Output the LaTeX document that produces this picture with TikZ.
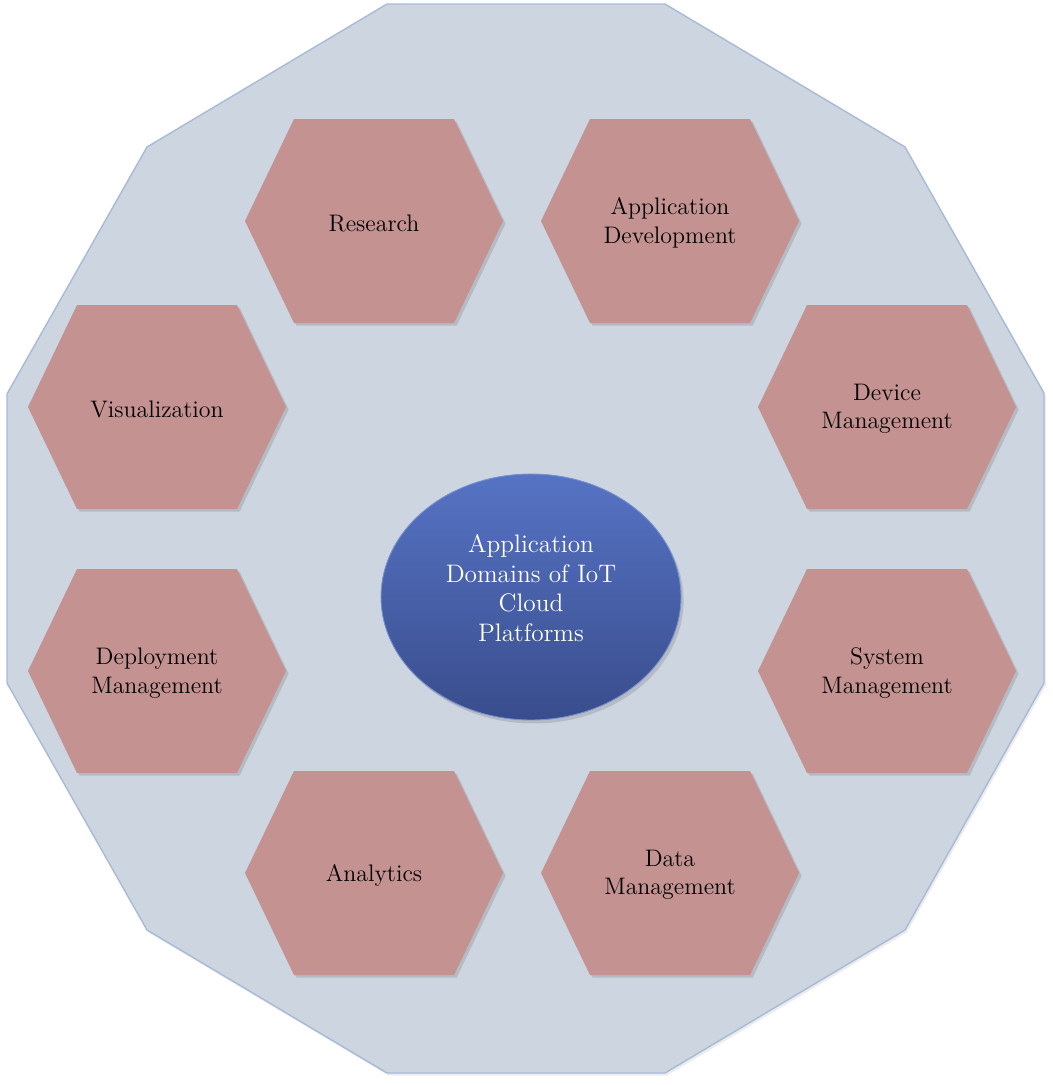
\documentclass[tikz,border=0pt]{standalone}
\usetikzlibrary{shapes.geometric,shadows}
\definecolor{platebg}{HTML}{CDD5E1}
\definecolor{plateline}{HTML}{A8BAD8}
\definecolor{hexred}{HTML}{C49290}
\definecolor{hubtop}{HTML}{5673C4}
\definecolor{hubbot}{HTML}{394D8C}
\tikzset{
  plate/.style={fill=platebg, draw=plateline, line width=0.8pt,
    drop shadow={shadow xshift=1pt, shadow yshift=-1.5pt, opacity=0.15}},
  hexbox/.style={fill=hexred,
    drop shadow={shadow xshift=1.5pt, shadow yshift=-1.5pt, opacity=0.3}},
  hexlabel/.style={align=center, text=black, font=\fontsize{13.6}{16.2}\selectfont},
  hub/.style={ellipse, minimum width=6cm, minimum height=4.92cm, inner sep=0pt,
    top color=hubtop, bottom color=hubbot, draw=hubtop!80!white, line width=0.5pt,
    drop shadow={shadow xshift=1.5pt, shadow yshift=-2pt, opacity=0.3}},
  hublabel/.style={align=center, text=white, font=\fontsize{14.4}{16.8}\selectfont}
}
\begin{document}
\begin{tikzpicture}[x=0.02cm, y=-0.02cm]
  \useasboundingbox (0,0) rectangle (1052,1085);
  % outer twelve-sided plate
  \draw[plate] (387,4) -- (665,4) -- (905,147) -- (1044,393) -- (1044,683)
     -- (905,930) -- (665,1073) -- (387,1073) -- (147,930) -- (7,683)
     -- (7,394) -- (147,147) -- cycle;
  % domains
  \foreach \cx/\cy/\nm/\txt in {374/221/research/{Research},
      670/221/appdev/{Application\\Development},
      157/407/visual/{Visualization},
      887/407/devmgmt/{Device\\Management},
      157/671/deploy/{Deployment\\Management},
      887/671/sysmgmt/{System\\Management},
      374/873/analytics/{Analytics},
      670/873/datamgmt/{Data\\Management}} {
    \fill[hexbox, shift={(\cx,\cy)}] (-129,0) -- (-80,-102) -- (80,-102)
       -- (129,0) -- (80,102) -- (-80,102) -- cycle;
    \node[hexlabel] (\nm) at (\cx,\cy+2) {\txt};
  }
  % centre
  \node[hub] (hub) at (531,597) {};
  \node[hublabel] (hubtext) at (531,588) {Application\\Domains of IoT\\Cloud\\Platforms};
\end{tikzpicture}
\end{document}
